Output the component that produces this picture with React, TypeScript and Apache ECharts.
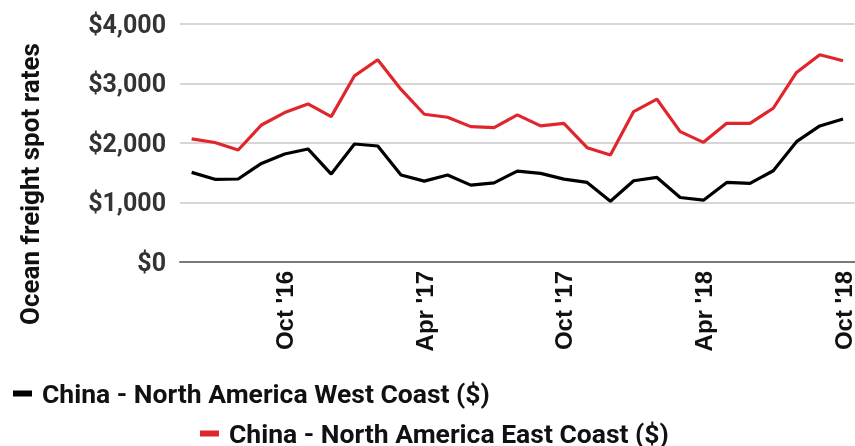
import React, { useEffect, useRef } from "react";
import * as echarts from "echarts";

const months = [
  "Jun '16", "Jul '16", "Aug '16", "Sep '16", "Oct '16", "Nov '16", "Dec '16",
  "Jan '17", "Feb '17", "Mar '17", "Apr '17", "May '17", "Jun '17", "Jul '17",
  "Aug '17", "Sep '17", "Oct '17", "Nov '17", "Dec '17", "Jan '18", "Feb '18",
  "Mar '18", "Apr '18", "May '18", "Jun '18", "Jul '18", "Aug '18", "Sep '18", "Oct '18",
];

const westCoast = [
  1506, 1390, 1395, 1657, 1815, 1900, 1478, 1983, 1950, 1461, 1360, 1461, 1292, 1331,
  1528, 1489, 1393, 1337, 1022, 1365, 1421, 1084, 1039, 1337, 1320, 1534, 2022, 2287, 2404,
];

const eastCoast = [
  2070, 2008, 1882, 2303, 2511, 2657, 2444, 3129, 3399, 2900, 2483, 2433, 2275, 2258,
  2472, 2287, 2331, 1921, 1798, 2528, 2736, 2191, 2011, 2331, 2331, 2584, 3185, 3483, 3382,
];

const yTicks = [0, 1000, 2000, 3000, 4000];
const shownLabels = ["Oct '16", "Apr '17", "Oct '17", "Apr '18", "Oct '18"];

const westName = "China - North America West Coast ($)";
const eastName = "China - North America East Coast ($)";

export default function App() {
  const ref = useRef<HTMLDivElement>(null);

  useEffect(() => {
    if (!ref.current) return;
    const chart = echarts.init(ref.current, undefined, { renderer: "svg" });
    const legendText = {
      fontFamily: "Roboto",
      fontWeight: "bold" as const,
      fontSize: 26.5,
      color: "#111",
      padding: [0, 0, 0, 5],
    };
    chart.setOption({
      animation: false,
      grid: { left: 180, top: 24, width: 677, height: 238, containLabel: false },
      graphic: [
        {
          type: "text",
          x: 30,
          y: 184,
          rotation: Math.PI / 2,
          style: {
            text: "Ocean freight spot rates",
            fontFamily: "Roboto",
            fontWeight: "bold",
            fontSize: 26,
            fill: "#111",
            textAlign: "center",
            textVerticalAlign: "middle",
          },
        },
      ],
      legend: [
        {
          data: [westName],
          left: 8,
          top: 375,
          icon: "rect",
          itemWidth: 19,
          itemHeight: 6,
          textStyle: legendText,
        },
        {
          data: [eastName],
          left: 195,
          top: 415,
          icon: "rect",
          itemWidth: 19,
          itemHeight: 6,
          textStyle: legendText,
        },
      ],
      xAxis: {
        type: "category",
        data: months,
        boundaryGap: true,
        axisLine: { lineStyle: { color: "#7a7a7a", width: 2 } },
        axisTick: { show: false },
        axisLabel: {
          rotate: 90,
          margin: 9,
          interval: (i: number, v: string) => shownLabels.includes(v),
          fontFamily: "Liberation Sans",
          fontWeight: "bold",
          fontSize: 24,
          color: "#111",
        },
        splitLine: { show: false },
      },
      yAxis: {
        type: "value",
        min: yTicks[0],
        max: yTicks[yTicks.length - 1],
        interval: 1000,
        axisLine: { show: false },
        axisTick: { show: false },
        axisLabel: {
          margin: 14,
          fontFamily: "Roboto",
          fontWeight: "bold",
          fontSize: 25,
          color: "#333",
          formatter: (v: number) => "$" + v.toLocaleString("en-US"),
        },
        splitLine: { lineStyle: { color: "#d6d6d6", width: 2 } },
      },
      series: [
        {
          name: westName,
          type: "line",
          data: westCoast,
          symbol: "none",
          color: "#000000",
          lineStyle: { width: 3.2, color: "#000000" },
        },
        {
          name: eastName,
          type: "line",
          data: eastCoast,
          symbol: "none",
          color: "#e0262c",
          lineStyle: { width: 3.2, color: "#e0262c" },
        },
      ],
    });
    return () => chart.dispose();
  }, []);

  return (
    <div
      ref={ref}
      style={{ position: "fixed", left: 0, top: 0, width: 855, height: 446 }}
    />
  );
}
